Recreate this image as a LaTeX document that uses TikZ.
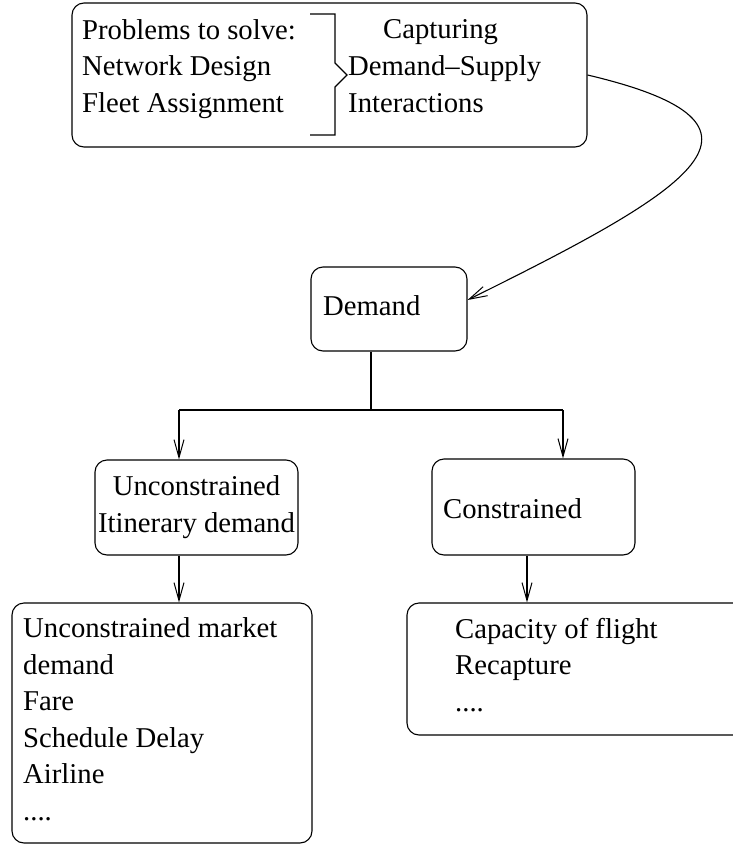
\documentclass[tikz,border=0pt]{standalone}
\usepackage{fontspec}
\setmainfont{Liberation Serif}
\usetikzlibrary{arrows.meta}

\tikzset{
  box/.style={draw, rounded corners=12pt, line width=1.1pt, inner sep=0pt},
  txt/.style={inner sep=0pt, anchor=base west, align=left},
  arr/.style={line width=1.1pt, -{Straight Barb[length=18pt,width=10pt,line width=1pt]}},
  every node/.style={font=\fontsize{28.7}{36.5}\selectfont}
}

\begin{document}
\begin{tikzpicture}[x=1pt,y=-1pt]
\useasboundingbox (0,0) rectangle (732,846);

\node[box, minimum width=515pt, minimum height=144pt] (top) at (329.5,75) {};
\node[box, minimum width=156pt, minimum height=84pt] (demand) at (389,309) {};
\node[box, minimum width=203pt, minimum height=95pt] (uncon) at (196.5,507.5) {};
\node[box, minimum width=203pt, minimum height=96pt] (con) at (533.5,507) {};
\node[box, minimum width=300pt, minimum height=240pt] (market) at (162,723) {};
\node[box, minimum width=353pt, minimum height=132pt] (capa) at (583.5,669) {};

% multi-line texts sit on the baseline of their last line
\node[txt] (problems) at (82,112) {Problems to solve:\\Network Design\\Fleet Assignment};
\node[txt] (capt) at (383,38) {Capturing};
\node[txt] (inter) at (348,112) {Demand--Supply\\Interactions};
\node[txt] (demtxt) at (323,315) {Demand};
\node[txt, align=center, anchor=base] (untxt) at (196.5,532) {Unconstrained\\Itinerary demand};
\node[txt] (contxt) at (443,518) {Constrained};
\node[txt] (mktxt) at (23,820) {Unconstrained market\\demand\\Fare\\Schedule Delay\\Airline\\....};
\node[txt] (catxt) at (455,711) {Capacity of flight\\Recapture\\....};

% bracket
\draw[line width=1.1pt] (310,14) -- (335,14) -- (335,63) -- (347,75) -- (335,87) -- (335,135) -- (310,135);

\coordinate (split) at (371,410);
\coordinate (splitL) at (179,410);
\coordinate (splitR) at (563,410);

\path[draw,arr] (top.east) .. controls (800,125) and (690,190) .. ([yshift=9pt]demand.east);
\path[draw,line width=1.1pt] (demand.south -| split) -- (split);
\path[draw,line width=1.1pt] (splitL) -- (splitR);
\path[draw,arr] (splitL) -- (splitL |- uncon.north);
\path[draw,arr] (splitR) -- (splitR |- con.north);
\path[draw,arr] (uncon.south -| splitL) -- (market.north -| splitL);
\path[draw,arr] ([xshift=-6.5pt]con.south) -- ([xshift=-6.5pt]con.south |- capa.north);
\end{tikzpicture}
\end{document}
